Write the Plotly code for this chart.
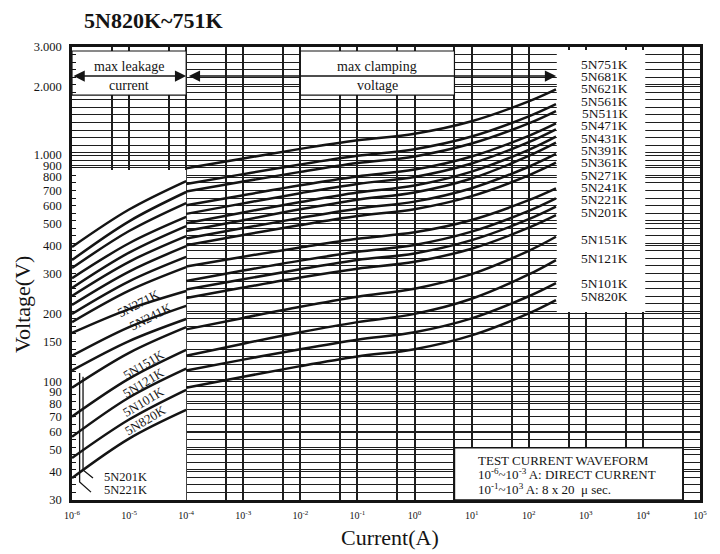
import numpy as np
import plotly.graph_objects as go

# ---------------- data ----------------
PARTS = ["5N751K", "5N681K", "5N621K", "5N561K", "5N511K", "5N471K", "5N431K",
         "5N391K", "5N361K", "5N271K", "5N241K", "5N221K", "5N201K", "5N151K",
         "5N121K", "5N101K", "5N820K"]

# leakage region currents (A)
LEAK_I = [1e-6, 1e-5, 1e-4]
LEAK_751 = [393, 575, 768]
LEAK_681 = [344, 510, 687]
LEAK_621 = [317, 462, 614]
LEAK_561 = [286, 408, 533]
LEAK_511 = [259, 371, 486]
LEAK_471 = [239, 338, 439]
LEAK_431 = [218, 306, 396]
LEAK_391 = [199, 277, 355]
LEAK_361 = [183, 252, 320]
LEAK_271 = [164, 209, 251]
LEAK_241 = [130, 174, 216]
LEAK_221 = [112, 151, 189]
LEAK_201 = [94, 134, 174]
LEAK_151 = [70, 103, 138]
LEAK_121 = [57, 85, 114]
LEAK_101 = [46, 68, 92]
LEAK_820 = [37.5, 56, 75]

# clamping region currents (A)
CLAMP_I = [1e-4, 1e-3, 1e-2, 1e-1, 1, 10, 100, 300]
CLAMP_751 = [875, 966, 1065, 1162, 1242, 1410, 1726, 1950]
CLAMP_681 = [745, 824, 909, 993, 1062, 1208, 1483, 1679]
CLAMP_621 = [690, 764, 843, 922, 986, 1124, 1380, 1564]
CLAMP_561 = [600, 665, 736, 805, 863, 986, 1216, 1380]
CLAMP_511 = [550, 612, 679, 746, 801, 918, 1141, 1300]
CLAMP_471 = [500, 558, 620, 683, 734, 845, 1054, 1205]
CLAMP_431 = [462, 516, 576, 635, 684, 788, 991, 1134]
CLAMP_391 = [428, 476, 528, 580, 623, 714, 888, 1011]
CLAMP_361 = [400, 444, 491, 538, 577, 659, 814, 925]
CLAMP_271 = [322, 356, 391, 427, 456, 517, 632, 713]
CLAMP_241 = [278, 309, 342, 374, 401, 459, 567, 644]
CLAMP_221 = [255, 283, 313, 344, 368, 421, 521, 592]
CLAMP_201 = [234, 260, 288, 315, 338, 386, 478, 543]
CLAMP_151 = [170, 191, 214, 237, 257, 298, 378, 436]
CLAMP_121 = [130, 147, 165, 183, 199, 232, 297, 344]
CLAMP_101 = [112, 125, 139, 153, 165, 190, 238, 272]
CLAMP_820 = [94, 105, 117, 129, 139, 160, 200, 229]

LEAK_ALL = [LEAK_751, LEAK_681, LEAK_621, LEAK_561, LEAK_511, LEAK_471, LEAK_431,
            LEAK_391, LEAK_361, LEAK_271, LEAK_241, LEAK_221, LEAK_201, LEAK_151,
            LEAK_121, LEAK_101, LEAK_820]
CLAMP_ALL = [CLAMP_751, CLAMP_681, CLAMP_621, CLAMP_561, CLAMP_511, CLAMP_471, CLAMP_431,
             CLAMP_391, CLAMP_361, CLAMP_271, CLAMP_241, CLAMP_221, CLAMP_201, CLAMP_151,
             CLAMP_121, CLAMP_101, CLAMP_820]

# label column (voltage level of each label in the right-hand list)
LABEL_V = [2516, 2220, 1959, 1729, 1524, 1345, 1187, 1047, 924, 815, 719, 635, 560,
           425, 350, 272, 237]

# tick labels
Y_TICKS = [30, 40, 50, 60, 70, 80, 90, 100, 150, 200, 300, 400, 500, 600, 700, 800,
           900, 1000, 2000, 3000]
Y_TICKTEXT = ["30", "40", "50", "60", "70", "80", "90", "100", "150", "200", "300",
              "400", "500", "600", "700", "800", "900", "1.000", "2.000", "3.000"]
X_EXP = list(range(-6, 6))
X_TICKS = [10.0 ** e for e in X_EXP]
X_TICKTEXT = ["10<sup>%d</sup>" % e for e in X_EXP]

# ---------------- figure ----------------
FONT = "Liberation Serif"
INK = "#141414"
GRID = "#1e1e1e"

fig = go.Figure()

for name, lv, cv in zip(PARTS, LEAK_ALL, CLAMP_ALL):
    fig.add_trace(go.Scatter(x=LEAK_I, y=lv, mode="lines", name=name + " leakage",
                             line=dict(color=INK, width=2.5, shape="spline", smoothing=1.0),
                             showlegend=False, hoverinfo="skip"))
    fig.add_trace(go.Scatter(x=CLAMP_I, y=cv, mode="lines", name=name + " clamping",
                             line=dict(color=INK, width=2.5, shape="spline", smoothing=1.0),
                             showlegend=False, hoverinfo="skip"))

# leader lines for 5N201K / 5N221K
fig.add_trace(go.Scatter(x=[1.56e-6, 1.56e-6, 2.33e-6], y=[105, 40.7, 37.5], mode="lines",
                         line=dict(color=INK, width=1.3), showlegend=False, hoverinfo="skip"))
fig.add_trace(go.Scatter(x=[1.36e-6, 1.36e-6, 2.15e-6], y=[109, 36.0, 32.5], mode="lines",
                         line=dict(color=INK, width=1.3), showlegend=False, hoverinfo="skip"))

# white panels (between grid and traces)
def panel(x0, x1, y0, y1, border=0):
    fig.add_shape(type="rect", xref="x", yref="y", x0=x0, x1=x1, y0=y0, y1=y1,
                  fillcolor="white", layer="between",
                  line=dict(color=INK if border else "rgba(0,0,0,0)", width=border))

panel(1e-6, 1e-4, 30, 860)
panel(1e-6, 1e-4, 1841, 2880, 1.2)
panel(1e-2, 5, 1841, 2880, 1.2)
panel(310, 1.1e4, 203, 2910)
panel(5, 5e4, 30, 51, 1.5)

L = np.log10
ann = []

def txt(x, y, s, size, **kw):
    d = dict(x=x, y=y, xref="x", yref="y", text=s, showarrow=False,
             font=dict(family=FONT, size=size, color=INK))
    d.update(kw)
    ann.append(d)

# right label column
for name, v in zip(PARTS, LABEL_V):
    txt(3.33, L(v), name, 13.5)

# left curve labels
txt(-4.84, 2.345, "5N271K", 13, textangle=-27)
txt(-4.62, 2.288, "5N241K", 13, textangle=-27)
txt(-4.74, 2.077, "5N151K", 13, textangle=-31)
txt(-4.74, 1.994, "5N121K", 13, textangle=-31)
txt(-4.74, 1.910, "5N101K", 13, textangle=-31)
txt(-4.72, 1.826, "5N820K", 13, textangle=-31)
txt(-5.475, 1.579, "5N201K", 12.5, xanchor="left")
txt(-5.475, 1.521, "5N221K", 12.5, xanchor="left")

# top boxes
txt(-5.0, 3.389, "max leakage", 14)
txt(-5.0, 3.305, "current", 14)
txt(-0.65, 3.393, "max clamping", 14)
txt(-0.65, 3.305, "voltage", 14)

# test waveform box
txt(1.075, 1.651, "TEST CURRENT WAVEFORM", 13, xanchor="left")
txt(1.075, 1.590, "10<sup>-6</sup>~10<sup>-3</sup> A: DIRECT CURRENT", 13, xanchor="left")
txt(1.075, 1.526, "10<sup>-1</sup>~10<sup>3</sup> A: 8 x 20  \u03bc sec.", 13, xanchor="left")

# arrows
ay = L(2234)
for x_head, x_tail in [(-4.0, -6.0), (2.48, -3.98)]:
    ann.append(dict(x=x_head, y=ay, ax=x_tail, ay=ay, xref="x", yref="y", axref="x", ayref="y",
                    text="", showarrow=True, arrowside="end+start", arrowhead=2,
                    startarrowhead=2, arrowsize=1.5, startarrowsize=1.5, arrowwidth=1.5,
                    arrowcolor=INK, standoff=0, startstandoff=0))

# titles (paper coords relative to the plot area: x 72..700, y 47..500 px)
ann.append(dict(x=(82 - 72) / 628, y=(500 - 21) / 453, xref="paper", yref="paper",
                text="<b>5N820K~751K</b>", showarrow=False, xanchor="left", yanchor="middle",
                font=dict(family=FONT, size=22, color=INK)))
ann.append(dict(x=(390 - 72) / 628, y=(500 - 537) / 453, xref="paper", yref="paper",
                text="Current(A)", showarrow=False, xanchor="center", yanchor="middle",
                font=dict(family=FONT, size=22, color=INK)))
ann.append(dict(x=(22 - 72) / 628, y=(500 - 305) / 453, xref="paper", yref="paper",
                text="Voltage(V)", showarrow=False, textangle=-90,
                xanchor="center", yanchor="middle",
                font=dict(family=FONT, size=22, color=INK)))

Y_GRID = [30 * 10 ** (k / 30) for k in range(1, 60)]
X_MINOR = [5 * 10.0 ** e for e in range(-6, 5)]

# the page body adds an 8px margin, so the figure is 8px smaller and margins shifted
fig.update_layout(
    width=712, height=546,
    margin=dict(l=64, r=20, t=39, b=54, autoexpand=False),
    paper_bgcolor="white", plot_bgcolor="white",
    showlegend=False,
    annotations=ann,
    font=dict(family=FONT, color=INK),
    xaxis=dict(type="log", range=[-6, 5], tickmode="array", tickvals=X_TICKS,
               ticktext=X_TICKTEXT, tickfont=dict(family=FONT, size=10, color=INK),
               ticks="", ticklabelstandoff=4, automargin=False,
               showgrid=True, gridcolor=GRID, gridwidth=2,
               minor=dict(tickmode="array", tickvals=X_MINOR, showgrid=True,
                          gridcolor=GRID, gridwidth=2, ticks=""),
               showline=True, mirror=True, linecolor=INK, linewidth=2.5, zeroline=False),
    yaxis=dict(type="log", range=[L(30), L(3000)], tickmode="array", tickvals=Y_TICKS,
               ticktext=Y_TICKTEXT, tickfont=dict(family=FONT, size=12.5, color=INK),
               ticks="", ticklabelstandoff=5, automargin=False,
               showgrid=True, gridcolor=GRID, gridwidth=1.4,
               minor=dict(tickmode="array", tickvals=Y_GRID, showgrid=True,
                          gridcolor=GRID, gridwidth=1.4, ticks="inside", ticklen=4,
                          tickcolor=INK, tickwidth=1),
               showline=True, mirror=True, linecolor=INK, linewidth=2.5, zeroline=False),
)

fig.write_html("out.html")
